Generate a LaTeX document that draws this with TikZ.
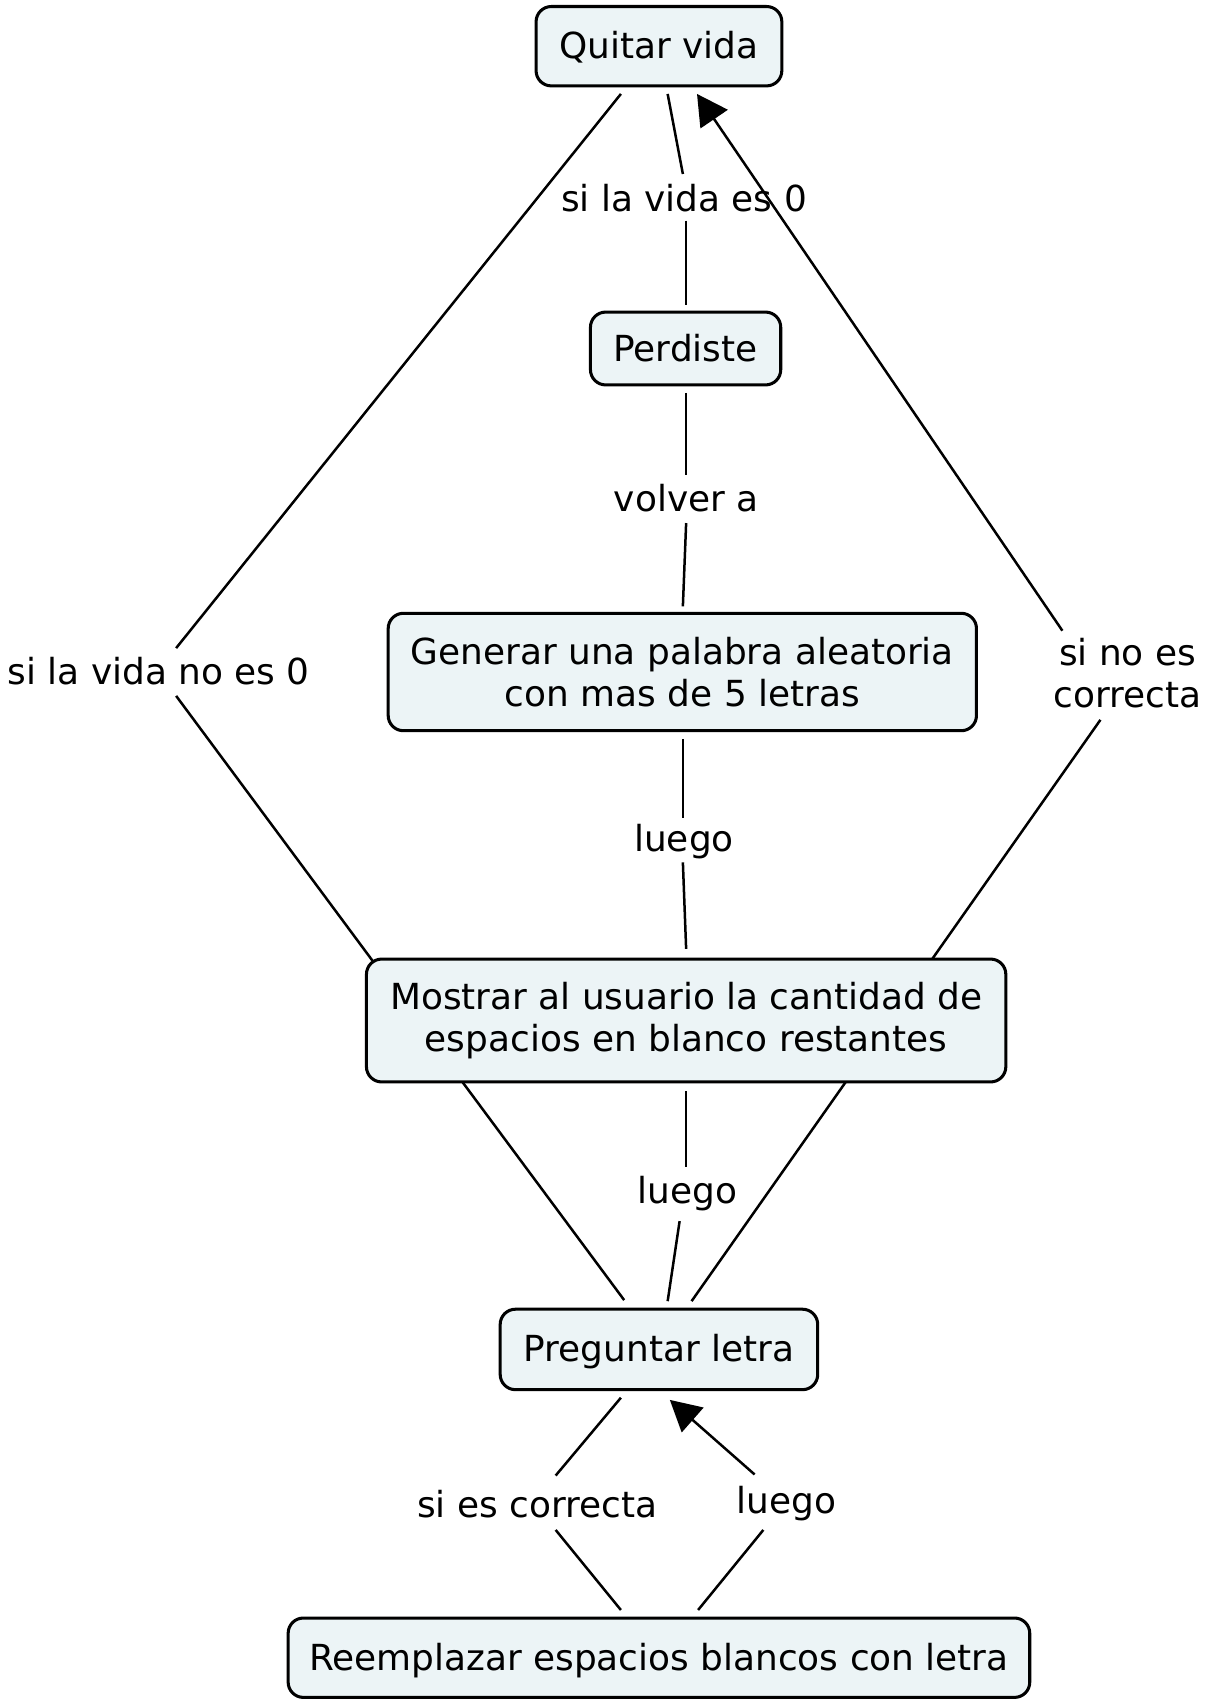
\documentclass[tikz,border=0pt]{standalone}
\usepackage{fontspec}
\setmainfont{DejaVu Sans}
\usetikzlibrary{calc,arrows.meta,backgrounds}
\definecolor{boxfill}{RGB}{236,244,246}
\begin{document}
\begin{tikzpicture}[x=1pt,y=-1pt,
  concept/.style={draw=black, line width=2.8pt, fill=boxfill, rounded corners=14pt, inner sep=0pt, align=center, font=\fontsize{33}{39}\selectfont},
  linkword/.style={inner sep=0pt, align=center, font=\fontsize{33}{39}\selectfont},
  oneline/.style={text height=27.5pt, text depth=4.5pt},
  conn/.style={line width=2.3pt},
  arr/.style={line width=2.3pt, -{Triangle[length=28pt,width=30pt]}}]
\useasboundingbox (0,0) rectangle (1116,1568);
% concepts
\node[concept, oneline, minimum width=226pt, minimum height=73pt] (quitar) at (606,42.5) {Quitar vida};
\node[concept, oneline, minimum width=175pt, minimum height=67pt] (perdiste) at (630.5,320.5) {Perdiste};
\node[concept, minimum width=541pt, minimum height=108pt] (generar) at (627.5,618) {Generar una palabra aleatoria\\con mas de 5 letras};
\node[concept, minimum width=588pt, minimum height=113pt] (mostrar) at (631,938.5) {Mostrar al usuario la cantidad de\\espacios en blanco restantes};
\node[concept, oneline, minimum width=292pt, minimum height=74pt] (preguntar) at (606,1241) {Preguntar letra};
\node[concept, oneline, minimum width=682pt, minimum height=73pt] (reemplazar) at (606,1524.5) {Reemplazar espacios blancos con letra};
% linking phrases
\node[linkword, oneline] (l1) at (629,183) {si la vida es 0};
\node[linkword, oneline] (l2) at (631,459) {volver a};
\node[linkword, oneline] (l3) at (629,772) {luego};
\node[linkword, oneline] (l4) at (146,618) {si la vida no es 0};
\node[linkword] (l5) at (1037,619) {si no es\\correcta};
\node[linkword, oneline] (l6) at (632,1095) {luego};
\node[linkword, oneline] (l7) at (494,1384) {si es correcta};
\node[linkword, oneline] (l8) at (723,1380) {luego};
% connectors
\begin{scope}[on background layer]
\draw[conn] ($(quitar.south)+(8,6)$) -- ($(l1.center)+(-1,-23)$);
\draw[conn] ($(l1.center)+(2,20)$) -- ($(perdiste.north)+(0.5,-5)$);
\draw[conn] ($(perdiste.south)+(0.5,6)$) -- ($(l2.center)+(0,-22)$);
\draw[conn] ($(l2.center)+(0,22)$) -- ($(generar.north)+(0.5,-5)$);
\draw[conn] ($(generar.south)+(0.5,6)$) -- ($(l3.center)+(-1,-20)$);
\draw[conn] ($(l3.center)+(-1,21)$) -- ($(mostrar.north)+(0,-8)$);
\draw[conn] ($(mostrar.south)+(0,7)$) -- ($(l6.center)+(-1,-22)$);
\draw[conn] ($(l6.center)+(-7,28)$) -- ($(preguntar.north)+(8,-6)$);
\draw[conn] ($(quitar.south)+(-35,6)$) -- ($(l4.center)+(16,-22)$);
\draw[conn] ($(l4.center)+(16,22)$) -- ($(preguntar.north)+(-32,-7)$);
\draw[conn] ($(preguntar.north)+(30,-6)$) -- ($(l5.center)+(-25,43)$);
\draw[arr] ($(l5.center)+(-60,-39)$) -- ($(quitar.south)+(35,6)$);
\draw[conn] ($(preguntar.south)+(-35,6)$) -- ($(l7.center)+(17,-27)$);
\draw[conn] ($(l7.center)+(17,23)$) -- ($(reemplazar.north)+(-35,-6)$);
\draw[conn] ($(reemplazar.north)+(36,-6)$) -- ($(l8.center)+(-21,27)$);
\draw[arr] ($(l8.center)+(-29,-24)$) -- ($(preguntar.south)+(10,8)$);
\end{scope}
\end{tikzpicture}
\end{document}
